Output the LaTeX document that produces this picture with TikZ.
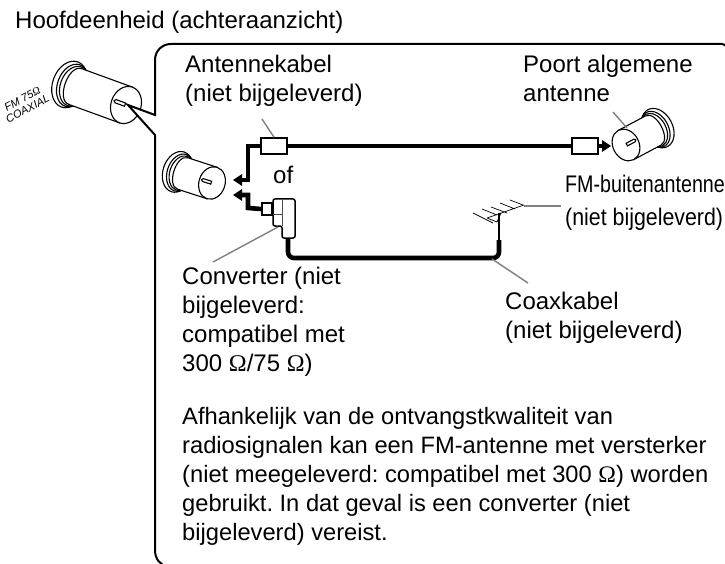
\documentclass[tikz,border=0pt]{standalone}
\usepackage{fontspec}
\setmainfont{Liberation Sans}
\newfontfamily\omfont{Liberation Serif}
\newcommand{\Om}{{\omfont Ω}}
\frenchspacing
\tikzset{
  lbl/.style={anchor=north west,inner sep=0pt,align=left,font=\fontsize{24}{29}\selectfont},
  leader/.style={draw=black!50,line width=1.4pt},
  cable/.style={line width=4.6pt,line join=miter},
  thinl/.style={line width=1.1pt},
  boxed/.style={draw,line width=1.5pt,fill=white},
  pics/plug/.style 2 args={code={
    \filldraw[fill=white,thinl] (-#1,0) ellipse ({17*#2} and {24*#2});
    \draw[thinl] ({-#1+3*#2},0) ellipse ({15*#2} and {22*#2});
    \draw[thinl] ({-#1+5*#2},0) ellipse ({14*#2} and {20.5*#2});
    \filldraw[fill=white,thinl] (0,{-19*#2}) -- ({-#1+6*#2},{-19*#2}) .. controls ({-#1-8*#2},{-19*#2}) and ({-#1-8*#2},{19*#2}) .. ({-#1+6*#2},{19*#2}) -- (0,{19*#2}) -- cycle;
    \filldraw[fill=white,thinl] (0,0) ellipse ({15*#2} and {19*#2});
    \draw[thinl] ({-1*#2},{1.7*#2}) -- ({-11*#2},{1.7*#2}) arc (90:270:{1.7*#2}) -- ({-1*#2},{-1.7*#2}) -- cycle;
  }}
}
\begin{document}
\begin{tikzpicture}[x=1pt,y=-1pt]
\useasboundingbox (0,0) rectangle (725,564);
% plugs
\begin{scope}[shift={(126,105)},rotate=-20]
  \pic[transform shape] {plug={60}{1}};
\end{scope}
\begin{scope}[shift={(212,183)},rotate=-18]
  \pic[transform shape] {plug={36}{.87}};
\end{scope}
\begin{scope}[shift={(626,145)},rotate=208]
  \pic[transform shape] {plug={36}{.87}};
\end{scope}
% panel
\fill[white] (156,115) -- (128,105) -- (156,135) -- cycle;
\draw[line width=2pt] (722,44) -- (171,44) .. controls (162,44) and (155,51) .. (155,60) -- (155,115)
  -- (128,105) -- (155,135) -- (155,550) .. controls (155,559) and (160,565) .. (168,567);
\draw[line width=2pt] (722,44) .. controls (724,44) and (725,45) .. (727,47);
\node[rotate=28,anchor=center,inner sep=0pt,align=center,font=\itshape\fontsize{11}{11}\selectfont] (fmlabel) at (25,104) {FM 75\Om\\COAXIAL};
% boxes
\node[boxed,minimum width=26pt,minimum height=16pt,inner sep=0pt] (box1) at (274,146) {};
\node[boxed,minimum width=26pt,minimum height=16pt,inner sep=0pt] (box2) at (585,146) {};
\node[boxed,minimum width=10pt,minimum height=12pt,inner sep=0pt] (box3) at (267,209) {};
\coordinate (t1) at (233,180);
\coordinate (t2) at (233,195);
\coordinate (t3) at (611,146);
% cables
\draw[cable] (box1.east) -- (box2.west);
\draw[cable] (box1.west) -- (248,146) -- (248,180) -- (240,180);
\draw[cable] (box3.west) -- (248,208) -- (248,195) -- (240,195);
\draw[cable] (box2.east) -- (604,146);
\fill (t1) -- (242,174) -- (242,186) -- cycle;
\fill (t2) -- (242,189) -- (242,201) -- cycle;
\fill (t3) -- (602,140) -- (602,152) -- cycle;
% converter
\draw[cable,rounded corners=6pt] (288,236) -- (288,258) -- (499,258) -- (499,240);
\filldraw[fill=white,line width=1.5pt,rounded corners=2pt] (273,199) -- (295,199) -- (295,238) -- (282,238) -- (282,226) -- (273,226) -- cycle;
\draw[line width=.7pt,black!70] (282,199) -- (282,226) (273,214) -- (282,214);
% antenna
\draw[line width=1.2pt] (499,240) -- (499,213);
\draw[line width=.7pt] (487,218) -- (524,205)
  (510,200) -- (523,205) (500,203) -- (515,209) (491,207) -- (507,213) (482,209) -- (497,215) (473,213) -- (493,223)
  (487,218) -- (497,222) -- (501,213);
% labels
\node[lbl] (title) at (15,10.5) {Hoofdeenheid (achteraanzicht)};
\node[lbl] (lant) at (185,54.5) {Antennekabel\\(niet bijgeleverd)};
\node[lbl] (lport) at (523,54.5) {Poort algemene\\antenne};
\node[lbl,anchor=base west] (lof) at (273,183) {of};
\node[lbl,anchor=base west,xscale=.82,transform shape] (lfm) at (565,193) {FM-buitenantenne};
\node[lbl,anchor=base west,xscale=.89,transform shape] (lfm2) at (565,225) {(niet bijgeleverd)};
\node[lbl] (lconv) at (182,266.5) {Converter (niet\\bijgeleverd:\\compatibel met\\300 \Om/75 \Om)};
\node[lbl] (lcoax) at (505,291.5) {Coaxkabel\\(niet bijgeleverd)};
\node[lbl,font=\fontsize{23.7}{29}\selectfont] (lpar) at (182,407.5) {Afhankelijk van de ontvangstkwaliteit van\\radiosignalen kan een FM-antenne met versterker\\(niet meegeleverd: compatibel met 300 \Om) worden\\gebruikt. In dat geval is een converter (niet\\bijgeleverd) vereist.};
% leaders
\coordinate (c1) at (262,119);
\coordinate (c2) at (613,112);
\coordinate (c3) at (627,128);
\coordinate (c4) at (278,227);
\coordinate (c5) at (213,262);
\coordinate (c6) at (492,259);
\coordinate (c7) at (528,283);
\coordinate (c8) at (524,206);
\coordinate (c9) at (561,206);
\draw[leader] (c1) -- (box1.north);
\draw[leader] (c2) -- (c3);
\draw[leader] (c4) -- (c5);
\draw[leader] (c6) -- (c7);
\draw[leader] (c8) -- (c9);
\end{tikzpicture}
\end{document}
